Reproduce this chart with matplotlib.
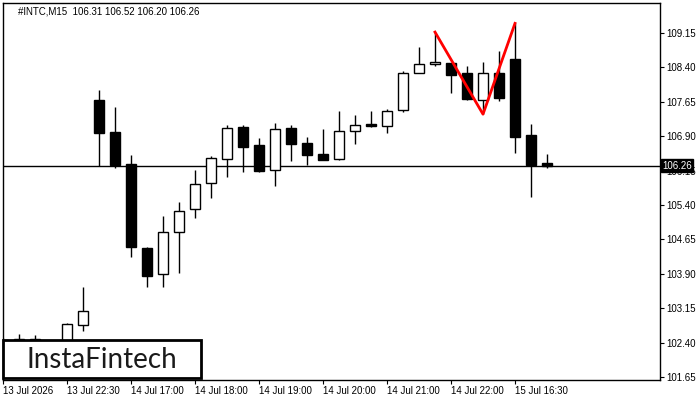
import numpy as np
import matplotlib
matplotlib.use("Agg")
from matplotlib import pyplot as plt
from matplotlib.patches import Rectangle

# OHLC (M15 bars)
opens  = [102.45, 102.40, 102.48, 102.38, 102.40, 102.78, 107.69, 106.99, 106.29, 104.46,
          103.89, 104.81, 105.31, 105.87, 106.40, 107.10, 106.71, 106.16, 107.07, 106.75,
          106.51, 106.41, 107.01, 107.17, 107.12, 107.47, 108.27, 108.47, 108.50, 108.27,
          107.70, 108.27, 108.58, 106.92, 106.31]
highs  = [102.51, 102.59, 102.56, 102.45, 102.83, 103.62, 107.91, 107.53, 106.48, 104.48,
          105.16, 105.47, 106.16, 106.47, 107.14, 107.14, 106.85, 107.18, 107.14, 106.88,
          107.05, 107.44, 107.36, 107.44, 107.49, 108.32, 108.84, 109.17, 108.50, 108.43,
          108.52, 108.76, 109.36, 107.16, 106.52]
lows   = [102.20, 102.25, 102.30, 102.20, 102.30, 102.66, 106.24, 106.21, 104.27, 103.61,
          103.61, 103.92, 105.11, 105.55, 106.00, 106.13, 106.13, 105.82, 106.37, 106.27,
          106.39, 106.39, 106.74, 107.09, 106.98, 107.43, 108.27, 108.42, 107.85, 107.69,
          107.38, 107.67, 106.54, 105.58, 106.20]
closes = [102.35, 102.48, 102.38, 102.30, 102.81, 103.08, 106.96, 106.27, 104.48, 103.86,
          104.81, 105.28, 105.85, 106.42, 107.07, 106.67, 106.15, 107.05, 106.72, 106.50,
          106.39, 107.01, 107.14, 107.13, 107.46, 108.27, 108.47, 108.51, 108.23, 107.71,
          108.27, 107.74, 106.89, 106.27, 106.26]

last_price = 106.26
title = "#INTC,M15  106.31 106.52 106.20 106.26"

# double top: first peak, trough, second peak
pattern_idx = [27, 30, 32]

date_ticks = [0, 4, 8, 12, 16, 20, 24, 28, 32]
date_labels = ["13 Jul 2026", "13 Jul 22:30", "14 Jul 17:00", "14 Jul 18:00",
               "14 Jul 19:00", "14 Jul 20:00", "14 Jul 21:00", "14 Jul 22:00",
               "15 Jul 16:30"]
price_ticks = [101.65, 102.40, 103.15, 103.90, 104.65, 105.40, 106.15, 106.90,
               107.65, 108.40, 109.15]

plt.rcParams['font.family'] = ['Liberation Sans', 'DejaVu Sans']

fig = plt.figure(figsize=(7, 4), dpi=100)
ax = fig.add_axes([3/700, 20/400, 657/700, 377/400])

w = 0.62
for i in range(len(opens)):
    o, h, l, c = opens[i], highs[i], lows[i], closes[i]
    ax.vlines(i, l, h, color="black", lw=1, zorder=2)
    bottom = min(o, c)
    height = max(abs(c - o), 0.02)
    face = "white" if c > o else "black"
    ax.add_patch(Rectangle((i - w/2, bottom), w, height, facecolor=face,
                           edgecolor="black", lw=1, zorder=3))

ax.axhline(last_price, color="black", lw=1, zorder=1)

pat_y = [highs[pattern_idx[0]], lows[pattern_idx[1]], highs[pattern_idx[2]]]
ax.plot(pattern_idx, pat_y, color="red", lw=2, zorder=4)

ax.set_xlim(0, 657/16)
ax.set_ylim(101.585, 109.804)

ax.yaxis.tick_right()
ax.set_yticks(price_ticks)
ax.set_yticklabels([f"{p:.2f}" for p in price_ticks])
ax.set_xticks(date_ticks)
ax.set_xticklabels(date_labels, ha="left")
ax.tick_params(axis="both", labelsize=7, length=3, width=0.8, direction="out", pad=1.5)
for s in ax.spines.values():
    s.set_color("black")
    s.set_linewidth(1)

# current price tag (sits over the 106.15 label, like the terminal does)
ax.text(1.003, last_price, f"{last_price:.2f}", transform=ax.get_yaxis_transform(),
        ha="left", va="center", fontsize=7, color="white", zorder=10, clip_on=False,
        bbox=dict(boxstyle="square,pad=0.15", facecolor="black", edgecolor="black"))

fig.text(18/700, 1 - 12/400, title, fontsize=7, ha="left", va="center")

# logo
fig.add_artist(Rectangle((3/700, 22/400), 198/700, 38/400, transform=fig.transFigure,
                         facecolor="white", edgecolor="black", lw=2, zorder=20))
fig.text(102/700, 1 - 360/400, "InstaFintech", fontsize=20, ha="center", va="center",
         color="#1a1a1a", family=["Lato", "DejaVu Sans"], zorder=21)

fig.savefig("out.png", dpi=100)
